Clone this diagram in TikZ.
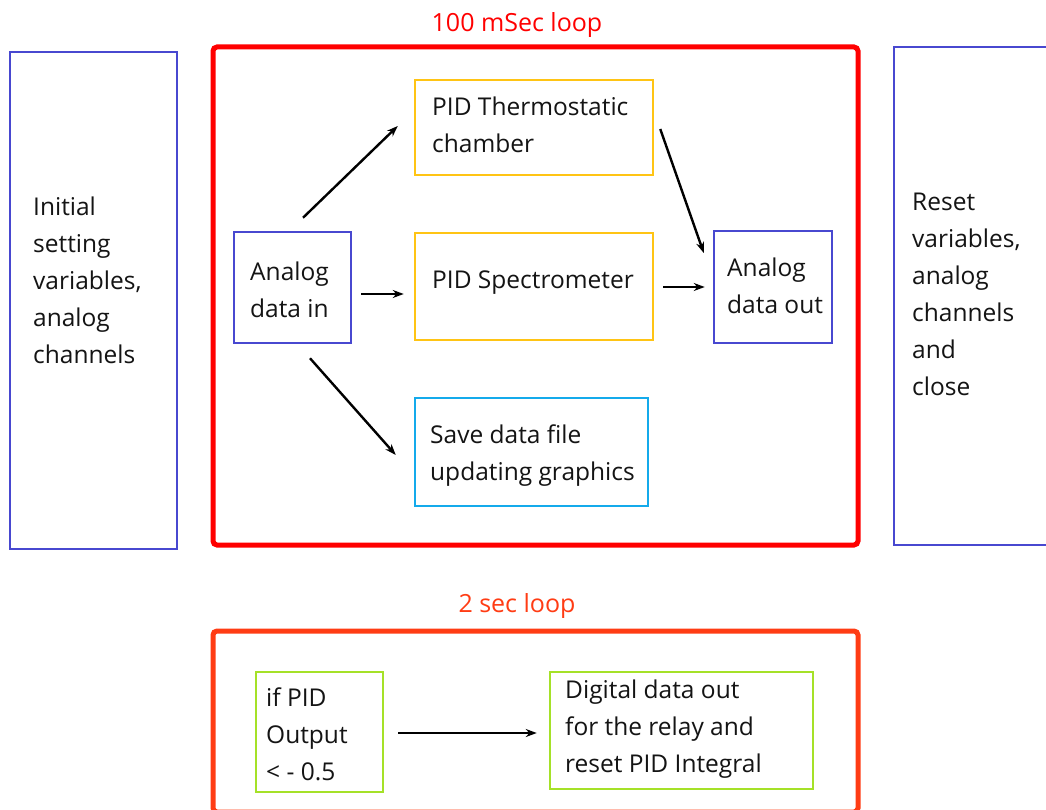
\documentclass[tikz,border=0pt]{standalone}
\usepackage{fontspec}
\setmainfont{Open Sans}
\usetikzlibrary{positioning, arrows.meta}

\definecolor{boxblue}{RGB}{72,72,208}
\definecolor{boxyellow}{RGB}{255,196,20}
\definecolor{boxcyan}{RGB}{20,170,235}
\definecolor{boxgreen}{RGB}{165,225,40}
\definecolor{loopred}{RGB}{255,0,0}
\definecolor{looporange}{RGB}{255,60,20}
\definecolor{txt}{RGB}{20,20,20}

\begin{document}
\begin{tikzpicture}[
    x=1pt, y=-1pt,
    >={Stealth[length=11pt,width=8pt]},
    box/.style={draw, line width=2.5pt, inner sep=0pt},
    loopbox/.style={draw, line width=5pt, rounded corners=4pt, inner sep=0pt},
    label/.style={anchor=west, align=left, inner sep=0pt, text=txt,
        font=\fontsize{24.5}{37}\selectfont},
    title/.style={inner sep=0pt, font=\fontsize{25}{28}\selectfont},
    arr/.style={->, line width=2.4pt}
]

    \clip (0,0) rectangle (1046,810);
    \fill[white] (0,0) rectangle (1046,810);

    % Outer boxes
    \node[box, draw=boxblue, minimum width=167, minimum height=497] (init) at (93.5,300.5) {};
    \node[label] (initT) at (33,280.5) {Initial\\setting\\variables,\\analog\\channels};

    \node[loopbox, draw=loopred, minimum width=645, minimum height=498] (fast) at (535.5,296) {};
    \node[title, text=loopred] (fastT) at (517,25) {100 mSec loop};

    \node[box, draw=boxblue, minimum width=166, minimum height=498] (reset) at (977,296) {};
    \node[label] (resetT) at (912,294) {Reset\\variables,\\analog\\channels\\and\\close};

    % Inside the 100 mSec loop
    \node[box, draw=boxyellow, minimum width=238, minimum height=95] (thermo) at (534,127.5) {};
    \node[label] (thermoT) at (432,125) {PID Thermostatic\\chamber};

    \node[box, draw=boxblue, minimum width=117, minimum height=111] (ain) at (292.5,287.5) {};
    \node[label] (ainT) at (250,289.5) {Analog\\data in};

    \node[box, draw=boxyellow, minimum width=238, minimum height=107] (spec) at (534,286.5) {};
    \node[label] (specT) at (432,283) {PID Spectrometer};

    \node[box, draw=boxblue, minimum width=118, minimum height=112] (aout) at (773,287) {};
    \node[label] (aoutT) at (727,286) {Analog\\data out};

    \node[box, draw=boxcyan, minimum width=233, minimum height=108] (save) at (531.5,452) {};
    \node[label] (saveT) at (430,456) {Save data file\\updating graphics};

    % Transitions
    \draw[arr] ([shift={(10.5,-13)}]ain.north) -- ([shift={(-16,-1.5)}]thermo.west);
    \draw[arr] ([shift={(9,6.5)}]ain.east) -- ([shift={(-10,7.5)}]spec.west);
    \draw[arr] ([shift={(17.5,14)}]ain.south) -- ([shift={(-18,3)}]save.west);
    \draw[arr] ([shift={(6,1.5)}]thermo.east) -- ([shift={(-9,-34)}]aout.west);
    \draw[arr] ([shift={(9,0.5)}]spec.east) -- ([shift={(-8,0)}]aout.west);

    % The 2 sec loop
    \node[loopbox, draw=looporange, minimum width=645, minimum height=181] (slow) at (535.5,721.5) {};
    \node[title, text=looporange] (slowT) at (517,606) {2 sec loop};

    \node[box, draw=boxgreen, minimum width=127, minimum height=120] (cond) at (319.5,732) {};
    \node[label] (condT) at (266,734) {if PID\\Output\\< - 0.5};

    \node[box, draw=boxgreen, minimum width=263, minimum height=117] (dout) at (681.5,730.5) {};
    \node[label] (doutT) at (565,729) {Digital data out\\for the relay and\\reset PID Integral};

    \draw[arr] ([shift={(14,1)}]cond.east) -- ([shift={(-12,2.5)}]dout.west);

\end{tikzpicture}
\end{document}
